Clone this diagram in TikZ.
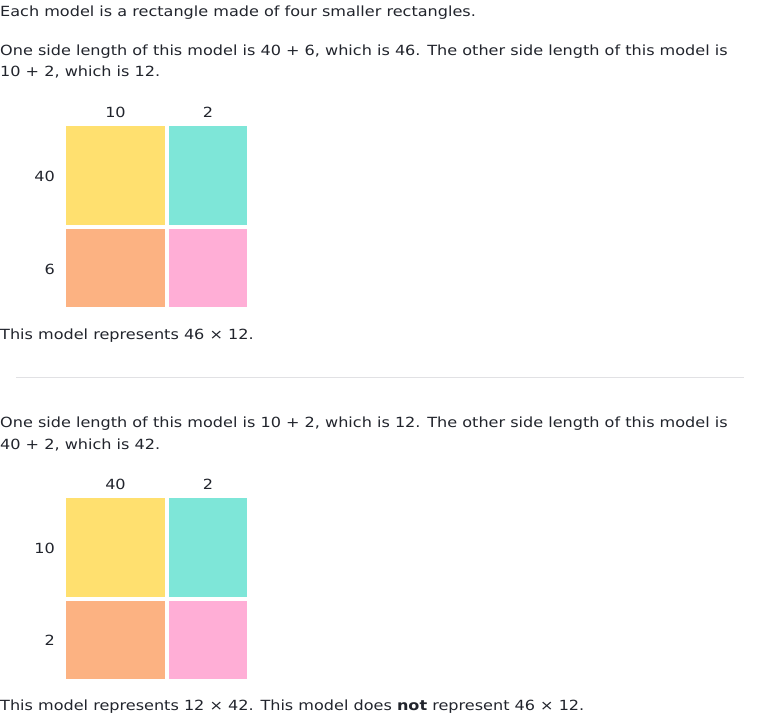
\documentclass[tikz,border=0pt]{standalone}
\usepackage{fontspec}
\setmainfont[FakeStretch=1.148]{DejaVu Sans}
\definecolor{cellyellow}{RGB}{255,224,111}
\definecolor{cellteal}{RGB}{126,230,216}
\definecolor{cellorange}{RGB}{252,178,130}
\definecolor{cellpink}{RGB}{255,174,214}
\definecolor{rulegray}{RGB}{225,225,228}
\definecolor{inkgray}{RGB}{33,36,44}
\begin{document}
\begin{tikzpicture}[x=1pt,y=-1pt,
    every node/.style={inner sep=0pt, text=inkgray, font=\fontsize{14}{17}\selectfont},
    line/.style={anchor=base west},
    toplabel/.style={anchor=base},
    leftlabel/.style={anchor=base east},
    cell/.style={anchor=north west, minimum width=#1}]
  \useasboundingbox (0,0) rectangle (760,717);
  \node[line] (intro) at (0,17) {Each model is a rectangle made of four smaller rectangles.};
  \node[line] (sidesa) at (0,56) {One side length of this model is 40 + 6, which is 46. The other side length of this model is};
  \node[line] (sidesa2) at (0,77) {10 + 2, which is 12.};
  % first model
  \begin{scope}[every node/.style={inner sep=0pt, draw=none}]
    \node[cell=99pt, minimum height=99pt, fill=cellyellow] (ya) at (66,126) {};
    \node[cell=78pt, minimum height=99pt, fill=cellteal] (ta) at (169,126) {};
    \node[cell=99pt, minimum height=78pt, fill=cellorange] (oa) at (66,229) {};
    \node[cell=78pt, minimum height=78pt, fill=cellpink] (pa) at (169,229) {};
  \end{scope}
  \node[toplabel] (tena) at (115.5,117) {10};
  \node[toplabel] (twoa) at (208,117) {2};
  \node[leftlabel] (fortya) at (55,181.5) {40};
  \node[leftlabel] (sixa) at (55,274.5) {6};
  \node[line] (repa) at (0,339) {This model represents 46 × 12.};
  \coordinate (rulel) at (16,377);
  \coordinate (ruler) at (744,377);
  \draw[rulegray, line width=1pt] (rulel) -- (ruler);
  \node[line] (sidesb) at (0,427) {One side length of this model is 10 + 2, which is 12. The other side length of this model is};
  \node[line] (sidesb2) at (0,449) {40 + 2, which is 42.};
  % second model
  \begin{scope}[every node/.style={inner sep=0pt, draw=none}]
    \node[cell=99pt, minimum height=99pt, fill=cellyellow] (yb) at (66,498) {};
    \node[cell=78pt, minimum height=99pt, fill=cellteal] (tb) at (169,498) {};
    \node[cell=99pt, minimum height=78pt, fill=cellorange] (ob) at (66,601) {};
    \node[cell=78pt, minimum height=78pt, fill=cellpink] (pb) at (169,601) {};
  \end{scope}
  \node[toplabel] (fortyb) at (115.5,489) {40};
  \node[toplabel] (twob) at (208,489) {2};
  \node[leftlabel] (tenb) at (55,553.5) {10};
  \node[leftlabel] (twoc) at (55,645.5) {2};
  \node[line] (repb) at (0,710) {This model represents 12 × 42. This model does \textbf{not} represent 46 × 12.};
\end{tikzpicture}
\end{document}
